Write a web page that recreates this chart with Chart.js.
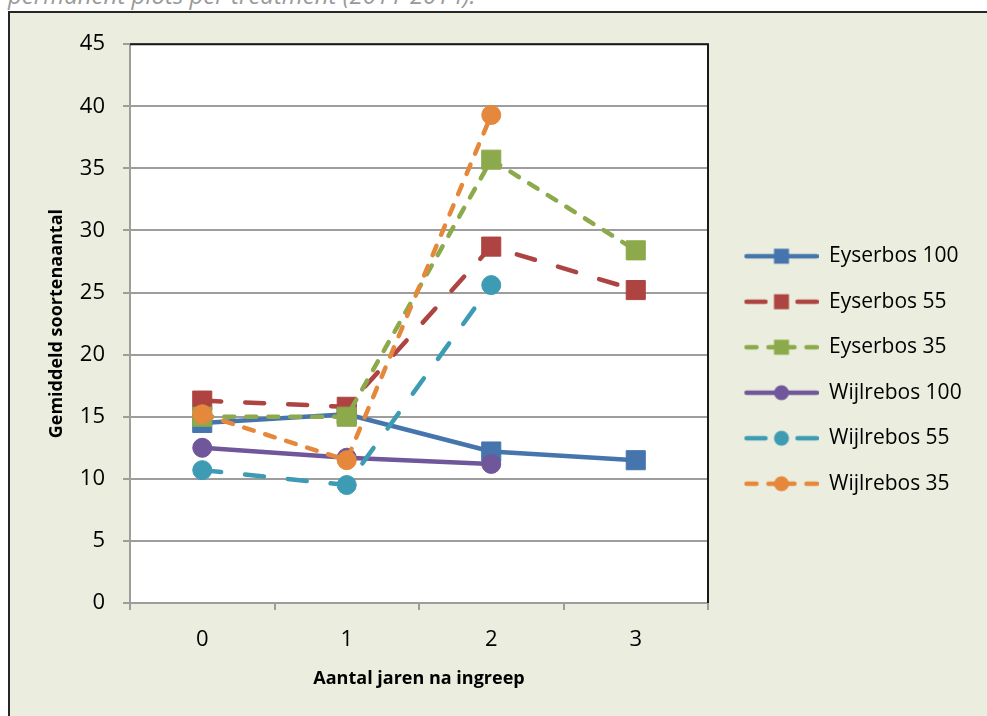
<!DOCTYPE html>
<html lang="nl">
<head>
  <meta charset="UTF-8">
  <meta name="viewport" content="width=device-width, initial-scale=1.0">
  <title>Gemiddeld soortenaantal</title>
  <script src="https://cdn.jsdelivr.net/npm/chart.js"></script>
  <style>
    html, body {
      margin: 0;
      padding: 0;
      width: 987px;
      height: 716px;
      overflow: hidden;
      background: #fff;
    }

    .caption {
      position: absolute;
      left: 8px;
      top: -17px;
      font: italic 24px/24px 'Open Sans', sans-serif;
      color: #9a9a9a;
      white-space: nowrap;
    }

    .frame {
      position: absolute;
      left: 8px;
      top: 11px;
      width: 990px;
      height: 720px;
      border: 2px solid #262626;
      background: #ebeede;
    }

    /* canvas starts left of the frame so chart.js gives the legend enough width */
    #chart {
      position: absolute;
      left: -110px;
      top: 0;
    }
  </style>
</head>

<body>
  <div class="caption">permanent plots per treatment (2011-2014).</div>
  <div class="frame"><canvas id="chart" width="1200" height="686"></canvas></div>

  <script>
    // data
    const years = ['0', '1', '2', '3'];
    const seriesNames = ['Eyserbos 100', 'Eyserbos 55', 'Eyserbos 35', 'Wijlrebos 100', 'Wijlrebos 55', 'Wijlrebos 35'];
    const eyserbos100 = [14.5, 15.2, 12.2, 11.5];
    const eyserbos55 = [16.3, 15.8, 28.7, 25.2];
    const eyserbos35 = [15.0, 15.0, 35.7, 28.4];
    const wijlrebos100 = [12.5, 11.7, 11.2, null];
    const wijlrebos55 = [10.7, 9.5, 25.6, null];
    const wijlrebos35 = [15.2, 11.5, 39.3, null];
    const yMin = 0, yMax = 45, yStep = 5;

    const FONT = "'Open Sans', sans-serif";
    Chart.defaults.font.family = FONT;
    Chart.defaults.color = '#000';

    const longDash = [19, 24];
    const shortDash = [10, 12];
    const styles = [
      { color: '#4675ae', dash: [], point: 'rect' },
      { color: '#ae4442', dash: longDash, point: 'rect' },
      { color: '#8caa4b', dash: shortDash, point: 'rect' },
      { color: '#70569a', dash: [], point: 'circle' },
      { color: '#3e9bb4', dash: longDash, point: 'circle' },
      { color: '#e5883c', dash: shortDash, point: 'circle' }
    ];
    const values = [eyserbos100, eyserbos55, eyserbos35, wijlrebos100, wijlrebos55, wijlrebos35];

    const datasets = values.map((v, i) => ({
      label: seriesNames[i],
      data: v,
      borderColor: styles[i].color,
      backgroundColor: styles[i].color,
      borderWidth: 4.5,
      borderDash: styles[i].dash,
      borderCapStyle: 'round',
      borderJoinStyle: 'round',
      pointStyle: styles[i].point,
      pointRadius: styles[i].point === 'rect' ? 13.5 : 9.5,
      pointBorderWidth: 1,
      pointBackgroundColor: styles[i].color,
      pointBorderColor: styles[i].color,
      spanGaps: false,
      order: values.length - 1 - i   // later series on top, like excel
    }));

    // small line+marker picture for the legend
    const ICON_W = 86;
    function legendIcon(s) {
      const c = document.createElement('canvas');
      c.width = ICON_W;
      c.height = 22;
      const g = c.getContext('2d');
      const mid = 49;
      g.strokeStyle = s.color;
      g.lineWidth = 4.5;
      g.lineCap = 'round';
      g.setLineDash(s.dash);
      g.beginPath(); g.moveTo(14, 11); g.lineTo(mid, 11); g.stroke();
      g.beginPath(); g.moveTo(84, 11); g.lineTo(mid, 11); g.stroke();
      g.setLineDash([]);
      g.fillStyle = s.color;
      if (s.point === 'rect') {
        g.fillRect(mid - 7.5, 3.5, 15, 15);
      } else {
        g.beginPath(); g.arc(mid, 11, 7.5, 0, Math.PI * 2); g.fill();
      }
      return c;
    }

    // white plot area with black top/right edge
    const plotFrame = {
      id: 'plotFrame',
      beforeDraw(chart) {
        const { ctx, chartArea: a } = chart;
        ctx.save();
        ctx.fillStyle = '#fff';
        ctx.fillRect(a.left, a.top, a.right - a.left, a.bottom - a.top);
        ctx.restore();
      },
      beforeDatasetsDraw(chart) {
        const { ctx, chartArea: a } = chart;
        ctx.save();
        ctx.strokeStyle = '#1a1a1a';
        ctx.lineWidth = 2;
        ctx.beginPath();
        ctx.moveTo(a.left, a.top);
        ctx.lineTo(a.right, a.top);
        ctx.lineTo(a.right, a.bottom);
        ctx.stroke();
        ctx.restore();
      }
    };

    const shiftX = 110;               // canvas is moved this far left
    const legendFont = 21, legendPad = 24.5;
    const plotRight = 698 + shiftX;   // where the plot area should end (canvas px)
    const gridGray = '#9d9d9d';

    function build() {
      const chart = new Chart(document.getElementById('chart'), {
        type: 'line',
        data: { labels: years, datasets: datasets },
        plugins: [plotFrame],
        options: {
          responsive: false,
          animation: false,
          layout: { padding: { top: 28, right: 0, bottom: 0, left: 0 } },
          plugins: {
            tooltip: { enabled: false },
            legend: {
              position: 'right',
              labels: {
                usePointStyle: true,
                pointStyleWidth: ICON_W,
                padding: legendPad,
                font: { size: legendFont },
                color: '#000',
                generateLabels: (chart) => chart.data.datasets.map((ds, i) => ({
                  text: ds.label,
                  pointStyle: legendIcon(styles[i]),
                  fillStyle: styles[i].color,
                  strokeStyle: styles[i].color,
                  lineWidth: 0,
                  fontColor: '#000',
                  hidden: false,
                  datasetIndex: i
                }))
              }
            }
          },
          scales: {
            x: {
              offset: true,
              grid: {
                offset: true,
                drawOnChartArea: false,
                drawTicks: true,
                tickLength: 7,
                color: gridGray,
                lineWidth: 2
              },
              border: { color: gridGray, width: 2 },
              ticks: { font: { size: 22 }, color: '#000', padding: 17 },
              title: {
                display: true,
                text: 'Aantal jaren na ingreep',
                font: { size: 18, weight: 'bold' },
                color: '#000',
                padding: { top: 0, bottom: 9 }
              },
              afterFit: (scale) => { scale.height = 96; }
            },
            y: {
              min: yMin,
              max: yMax,
              ticks: { stepSize: yStep, font: { size: 22 }, color: '#000', padding: 18 },
              grid: { color: gridGray, lineWidth: 2, tickLength: 7 },
              border: { color: gridGray, width: 2 },
              title: {
                display: true,
                text: 'Gemiddeld soortenaantal',
                font: { size: 18, weight: 'bold' },
                color: '#000',
                padding: { top: 36 + shiftX, bottom: 0 }
              },
              afterFit: (scale) => { scale.width = 120 + shiftX; }
            }
          }
        }
      });
      // push the legend over until the plot ends where it should
      for (let k = 0; k < 4; k++) {
        const extra = chart.chartArea.right - plotRight;
        if (Math.abs(extra) < 0.5) break;
        chart.options.layout.padding.right = Math.max(0, chart.options.layout.padding.right + extra);
        chart.update('none');
      }
    }

    Promise.all([
      document.fonts.load("21px 'Open Sans'"),
      document.fonts.load("bold 18px 'Open Sans'"),
      document.fonts.load("italic 24px 'Open Sans'")
    ]).then(build, build);
  </script>
</body>

</html>
